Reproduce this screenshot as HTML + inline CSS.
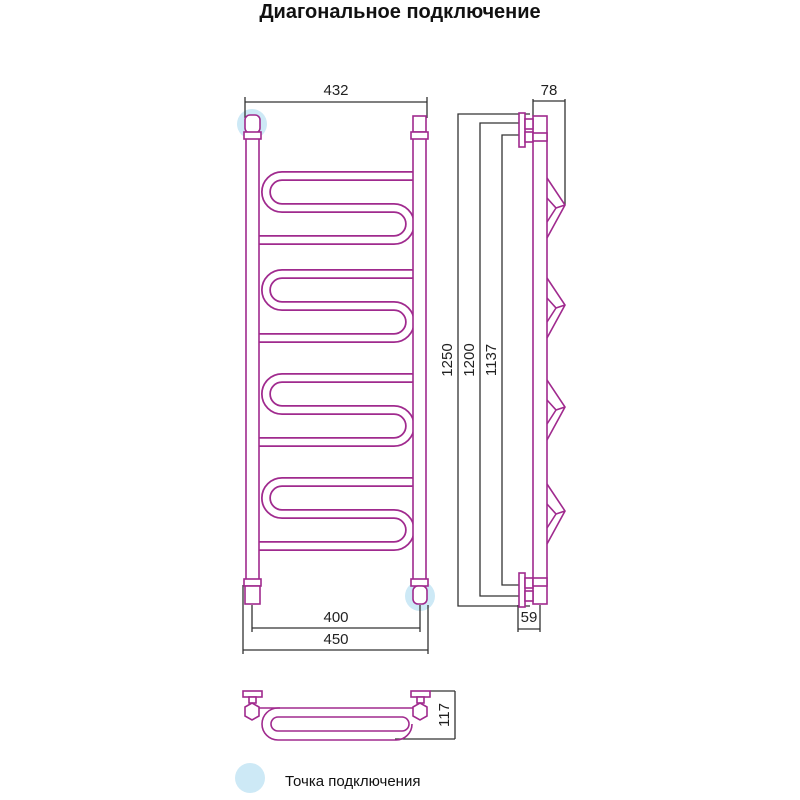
<!DOCTYPE html>
<html><head><meta charset="utf-8"><style>
html,body{margin:0;padding:0;background:#fff}
svg{display:block}
text{font-family:"Liberation Sans",sans-serif}
</style></head><body>
<svg width="800" height="800" viewBox="0 0 800 800" xmlns="http://www.w3.org/2000/svg">
<text x="400" y="18" font-size="20" font-weight="bold" text-anchor="middle" fill="#111">Диагональное подключение</text>

<!-- connection circles -->
<circle cx="252" cy="124" r="15" fill="#cde9f6"/>
<circle cx="420" cy="596" r="15" fill="#cde9f6"/>
<circle cx="250" cy="778" r="15" fill="#cde9f6"/>
<text x="285" y="786" font-size="15" fill="#111">Точка подключения</text>

<g fill="none" stroke="#333" stroke-width="1.3">
<line x1="245" y1="102" x2="427" y2="102"/><line x1="245" y1="97" x2="245" y2="118"/><line x1="427" y1="97" x2="427" y2="118"/>
<line x1="252" y1="628" x2="420" y2="628"/><line x1="252" y1="605" x2="252" y2="632"/><line x1="420" y1="605" x2="420" y2="632"/>
<line x1="243" y1="650" x2="428" y2="650"/><line x1="243" y1="585" x2="243" y2="654"/><line x1="428" y1="605" x2="428" y2="654"/>
<polyline points="530,114 458,114 458,606 530,606"/>
<polyline points="522,123 480,123 480,596 522,596"/>
<polyline points="522,135 502,135 502,585 522,585"/>
<line x1="533" y1="101" x2="565" y2="101"/><line x1="533" y1="99" x2="533" y2="116"/><line x1="565" y1="99" x2="565" y2="205"/>
<line x1="518" y1="629" x2="540" y2="629"/><line x1="518" y1="605" x2="518" y2="632"/><line x1="540" y1="605" x2="540" y2="632"/>
<line x1="430" y1="691" x2="455" y2="691"/><line x1="395" y1="739" x2="455" y2="739"/><line x1="455" y1="691" x2="455" y2="739"/>
</g>
<g font-size="15" fill="#222" text-anchor="middle">
<text x="336" y="95">432</text>
<text x="336" y="622">400</text>
<text x="336" y="644">450</text>
<text x="549" y="95">78</text>
<text x="529" y="622">59</text>
<text transform="translate(452,360) rotate(-90)">1250</text>
<text transform="translate(474,360) rotate(-90)">1200</text>
<text transform="translate(496,360) rotate(-90)">1137</text>
<text transform="translate(449,715) rotate(-90)">117</text>
</g>

<g fill="none" stroke-linecap="round" stroke-linejoin="round">
<g stroke="#a02a8e" stroke-width="10">
<path d="M412 176 H282 a16 16 0 0 0 0 32 H394 a16 16 0 0 1 0 32 H258"/>
<path d="M412 274 H282 a16 16 0 0 0 0 32 H394 a16 16 0 0 1 0 32 H258"/>
<path d="M412 378 H282 a16 16 0 0 0 0 32 H394 a16 16 0 0 1 0 32 H258"/>
<path d="M412 482 H282 a16 16 0 0 0 0 32 H394 a16 16 0 0 1 0 32 H258"/>
</g>
<g stroke="#fff" stroke-width="6.5">
<path d="M412 176 H282 a16 16 0 0 0 0 32 H394 a16 16 0 0 1 0 32 H258"/>
<path d="M412 274 H282 a16 16 0 0 0 0 32 H394 a16 16 0 0 1 0 32 H258"/>
<path d="M412 378 H282 a16 16 0 0 0 0 32 H394 a16 16 0 0 1 0 32 H258"/>
<path d="M412 482 H282 a16 16 0 0 0 0 32 H394 a16 16 0 0 1 0 32 H258"/>
</g>
</g>
<g fill="#fff" stroke="#a02a8e" stroke-width="1.6">
<rect x="246" y="138" width="13" height="446"/>
<rect x="413" y="138" width="13" height="446"/>
<rect x="245" y="115" width="15" height="18" rx="5"/>
<rect x="244" y="132" width="17" height="7"/>
<rect x="413" y="116" width="13" height="16"/>
<rect x="411" y="132" width="17" height="7"/>
<rect x="244" y="579" width="17" height="7"/>
<rect x="245" y="586" width="15" height="18"/>
<rect x="411" y="579" width="17" height="7"/>
<rect x="413" y="586" width="14" height="18" rx="5"/>
</g>

<g fill="#fff" stroke="#a02a8e" stroke-width="1.6">
<rect x="533" y="116" width="14" height="488"/>
<rect x="519" y="113" width="6" height="34"/>
<rect x="525" y="119" width="8" height="10"/>
<rect x="525" y="132" width="8" height="10"/>
<rect x="533" y="133" width="14" height="8"/>
<rect x="519" y="573" width="6" height="34"/>
<rect x="525" y="578" width="8" height="10"/>
<rect x="525" y="591" width="8" height="10"/>
<rect x="533" y="578" width="14" height="8"/>
</g>
<g fill="none" stroke="#a02a8e" stroke-width="1.6">
<path d="M547 178 L565 205 L547 238 M547 198 L556 208 L547 222 M556 208 L565 205"/>
<path d="M547 278 L565 305 L547 338 M547 298 L556 308 L547 322 M556 308 L565 305"/>
<path d="M547 380 L565 407 L547 440 M547 400 L556 410 L547 424 M556 410 L565 407"/>
<path d="M547 484 L565 511 L547 544 M547 504 L556 514 L547 528 M556 514 L565 511"/>
</g>

<!-- bottom view -->
<g fill="none" stroke="#a02a8e" stroke-width="1.6">
<path d="M413 708 H278 a16 16 0 0 0 0 32 H396 a16 16 0 0 0 16 -16"/>
<path d="M403 717 H278 a7 7 0 0 0 0 14 H402 a7 7 0 0 0 0 -14"/>
<line x1="259" y1="708" x2="280" y2="708"/>
</g>
<g fill="#fff" stroke="#a02a8e" stroke-width="1.6">
<rect x="243" y="691" width="19" height="6"/>
<rect x="249" y="697" width="7" height="6"/>
<polygon points="252,703 259,707 259,716 252,720 245,716 245,707"/>
<rect x="411" y="691" width="19" height="6"/>
<rect x="417" y="697" width="7" height="6"/>
<polygon points="420,703 427,707 427,716 420,720 413,716 413,707"/>
</g>
</svg>
</body></html>
